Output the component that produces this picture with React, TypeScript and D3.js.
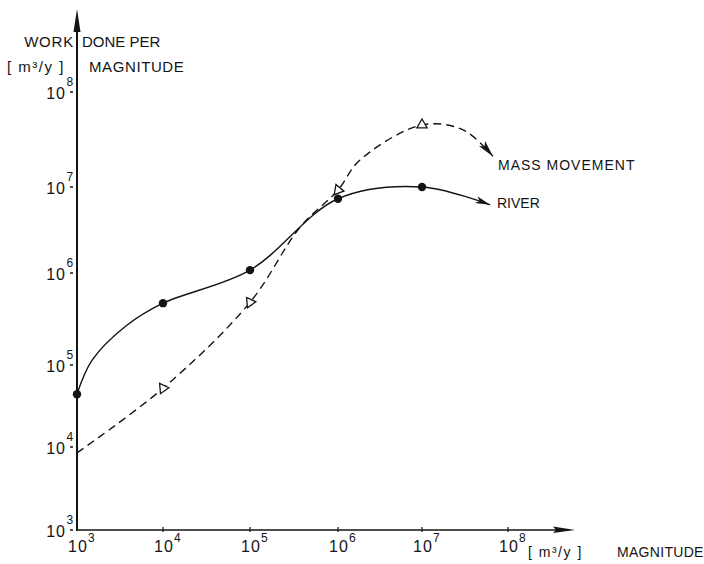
import * as d3 from "d3";

// decades on both axes
const decades = [1e3, 1e4, 1e5, 1e6, 1e7, 1e8];
const decadeExponents = ["3", "4", "5", "6", "7", "8"];

// RIVER (solid); marked = drawn dot
const riverMagnitude = [1e3, 1.5e3, 3.8e3, 1e4, 1e5, 1e6, 1e7, 6.2e7];
const riverWork = [4.4e4, 1.13e5, 2.7e5, 4.7e5, 1.08e6, 7.3e6, 1e7, 6.2e6];
const riverMarked = [true, false, false, true, true, true, true, false];

// MASS MOVEMENT (dashed); marked = drawn triangle
const massMagnitude = [1e3, 1e4, 1e5, 3.7e5, 1e6, 1.8e6, 1e7, 3.0e7, 6.7e7];
const massWork = [8.5e3, 5.2e4, 4.8e5, 3.4e6, 9.2e6, 1.9e7, 4.5e7, 4.0e7, 2.1e7];
const massMarked = [false, true, true, false, true, false, true, false, false];
const massTriangleTilt = [0, 85, 85, 0, 100, 0, 0, 0, 0];

const WIDTH = 704;
const HEIGHT = 564;
const AXIS_X = 77;
const AXIS_Y = 530;
// hand-drawn decade positions
const X_DECADE_PX = [77, 163, 250, 338, 422, 508];
const Y_DECADE_PX = [530, 447, 365, 273, 187, 92];
const INK = "#141414";
const FONT = "'Liberation Sans', Arial, Helvetica, sans-serif";

type Pt = { m: number; w: number };

export default function App() {
  const x = d3.scaleLog().domain(decades).range(X_DECADE_PX);
  const y = d3.scaleLog().domain(decades).range(Y_DECADE_PX);

  const river: Pt[] = riverMagnitude.map((m, i) => ({ m, w: riverWork[i] }));
  const mass: Pt[] = massMagnitude.map((m, i) => ({ m, w: massWork[i] }));

  const lineGen = d3
    .line<Pt>()
    .x((d) => x(d.m))
    .y((d) => y(d.w))
    .curve(d3.curveCatmullRom.alpha(0.5));

  const triangle = d3.symbol(d3.symbolTriangle, 46)() ?? "";

  return (
    <svg
      width={WIDTH}
      height={HEIGHT}
      viewBox={`0 0 ${WIDTH} ${HEIGHT}`}
      style={{ position: "absolute", left: 0, top: 0, background: "#fff" }}
      fontFamily={FONT}
    >
      <defs>
        <marker id="arrowRiver" markerUnits="userSpaceOnUse" markerWidth="18" markerHeight="10" refX="15" refY="3.5" orient="auto">
          <path d="M0,0 L15,3.5 L0,7 L4,3.5 Z" fill={INK} stroke="none" />
        </marker>
        <marker id="arrowMass" markerUnits="userSpaceOnUse" markerWidth="20" markerHeight="10" refX="17" refY="4" orient="auto">
          <path d="M0,0 L17,4 L0,8 L4,4 Z" fill={INK} stroke="none" strokeDasharray="none" />
        </marker>
      </defs>

      {/* axes */}
      <line x1={AXIS_X} y1={AXIS_Y + 1} x2={AXIS_X} y2={26} stroke={INK} strokeWidth={2} />
      <path d={`M${AXIS_X},9 L${AXIS_X + 3.5},32 L${AXIS_X - 3.5},32 Z`} fill={INK} />
      <line x1={AXIS_X} y1={AXIS_Y} x2={560} y2={AXIS_Y} stroke={INK} strokeWidth={1.4} />
      <path d={`M575,${AXIS_Y} L553,${AXIS_Y - 3.5} L556,${AXIS_Y} L553,${AXIS_Y + 3} Z`} fill={INK} />

      {/* y ticks */}
      {decades.map((d, i) => (
        <g key={`y${i}`}>
          <line x1={70} x2={73} y1={y(d)} y2={y(d)} stroke={INK} strokeWidth={1.5} />
          <text x={66} y={y(d) + 7} fontSize={16} textAnchor="end" letterSpacing={1} fill={INK}>
            10
          </text>
          <text x={66.5} y={y(d) - 6} fontSize={12} fill={INK}>
            {decadeExponents[i]}
          </text>
        </g>
      ))}

      {/* x ticks */}
      {decades.map((d, i) => (
        <g key={`x${i}`}>
          {i > 0 ? <line x1={x(d)} x2={x(d)} y1={AXIS_Y - 3} y2={AXIS_Y + 2} stroke={INK} strokeWidth={1.2} /> : null}
          <text x={x(d) - 9} y={AXIS_Y + 22} fontSize={16} letterSpacing={1} fill={INK}>
            10
          </text>
          <text x={x(d) + 11} y={AXIS_Y + 12} fontSize={12} fill={INK}>
            {decadeExponents[i]}
          </text>
        </g>
      ))}

      {/* axis titles */}
      <g fill={INK} fontSize={15}>
        <text x={74} y={47} textAnchor="end" letterSpacing={0.8}>WORK</text>
        <text x={82} y={47}>DONE PER</text>
        <text x={7} y={72} letterSpacing={1.5}>[ m³/y ]</text>
        <text x={89} y={72} letterSpacing={0.6}>MAGNITUDE</text>
      </g>
      <g fill={INK} fontSize={14}>
        <text x={528} y={557} letterSpacing={1.5}>[ m³/y ]</text>
        <text x={617} y={557} letterSpacing={0.3}>MAGNITUDE</text>
      </g>

      {/* curves */}
      <path
        d={lineGen(mass) ?? ""}
        fill="none"
        stroke={INK}
        strokeWidth={1.4}
        strokeDasharray="8 5"
        markerEnd="url(#arrowMass)"
      />
      <path d={lineGen(river) ?? ""} fill="none" stroke={INK} strokeWidth={1.4} markerEnd="url(#arrowRiver)" />

      {/* markers */}
      {river.map((p, i) =>
        riverMarked[i] ? <circle key={`r${i}`} cx={x(p.m)} cy={y(p.w)} r={4.2} fill={INK} /> : null
      )}
      {mass.map((p, i) =>
        massMarked[i] ? (
          <path
            key={`m${i}`}
            d={triangle}
            transform={`translate(${x(p.m)},${y(p.w)}) rotate(${massTriangleTilt[i]})`}
            fill="#fff"
            stroke={INK}
            strokeWidth={1.3}
          />
        ) : null
      )}

      {/* series labels */}
      <g fill={INK} fontSize={14}>
        <text x={498} y={170} letterSpacing={1}>MASS MOVEMENT</text>
        <text x={497} y={208}>RIVER</text>
      </g>
    </svg>
  );
}
